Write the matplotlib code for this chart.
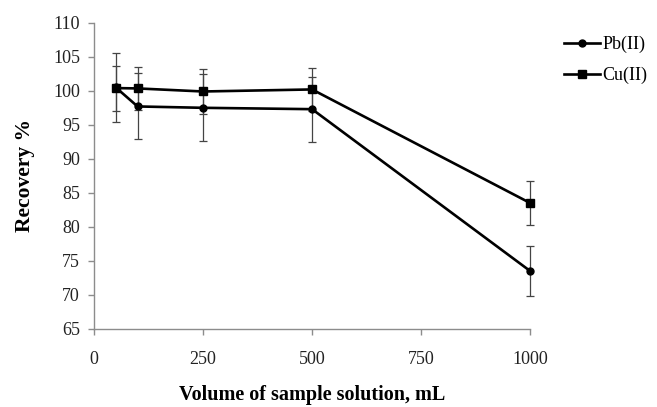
import matplotlib as mpl
mpl.use("Agg")
import matplotlib.pyplot as plt

# sample volume, mL
volume = [50, 100, 250, 500, 1000]

pb_recovery = [100.5, 97.7, 97.5, 97.3, 73.5]
pb_err = [5.1, 4.85, 4.9, 4.8, 3.7]

cu_recovery = [100.4, 100.35, 99.9, 100.2, 83.5]
cu_err = [3.3, 3.2, 3.3, 3.2, 3.2]

xticks = [0, 250, 500, 750, 1000]
yticks = list(range(65, 111, 5))

plt.rcParams["font.family"] = ["Liberation Serif", "DejaVu Serif"]

fig = plt.figure(figsize=(6.57, 4.07), dpi=100)
ax = fig.add_axes([0.143, 0.192, 0.664, 0.752])

for y, err, mk, ms, lab in [(pb_recovery, pb_err, "o", 5, "Pb(II)"),
                            (cu_recovery, cu_err, "s", 5.5, "Cu(II)")]:
    eb = ax.errorbar(volume, y, yerr=err, color="black", marker=mk,
                     markersize=ms, linewidth=1.9, ecolor="#444444",
                     elinewidth=0.9, capsize=3, capthick=0.9, label=lab)
    for art in eb.lines[1] + eb.lines[2]:
        art.set_clip_on(False)
    eb.lines[0].set_clip_on(False)

ax.set_xlim(0, 1000)
ax.set_ylim(65, 110)
ax.set_xticks(xticks)
ax.set_yticks(yticks)

for side in ["top", "right"]:
    ax.spines[side].set_visible(False)
for side in ["left", "bottom"]:
    ax.spines[side].set_color("#8c8c8c")
    ax.spines[side].set_linewidth(1.0)
ax.tick_params(direction="out", length=4, width=1.0, color="#8c8c8c",
               labelsize=13, labelcolor="#222222", pad=6)
ax.tick_params(axis="x", pad=12)

ax.set_xlabel("Volume of sample solution, mL", fontsize=14.5, fontweight="bold",
              labelpad=12)
ax.set_ylabel("Recovery %", fontsize=15.5, fontweight="bold", labelpad=13)

handles, labels = ax.get_legend_handles_labels()
handles = [h[0] for h in handles]
ax.legend(handles, labels, loc="upper left", bbox_to_anchor=(1.04, 1.01),
          frameon=False, fontsize=13, handlelength=2.0, handletextpad=0.15,
          labelspacing=0.75)

fig.savefig("out.png", dpi=100)
